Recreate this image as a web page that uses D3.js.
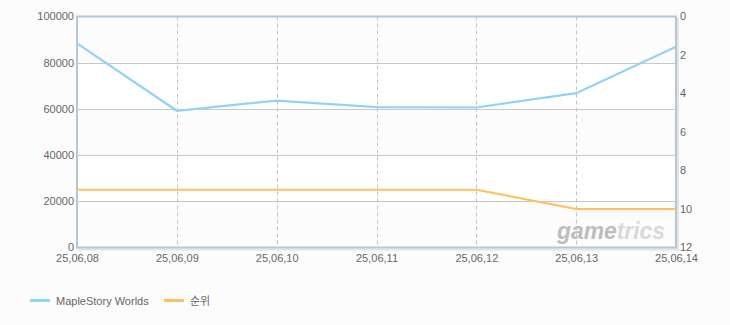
<!DOCTYPE html>
<html><head><meta charset="utf-8">
<script src="https://cdn.jsdelivr.net/npm/d3@7/dist/d3.min.js"></script>
<style>
html,body{margin:0;padding:0;background:#fcfcfc;}
text{font-family:"Liberation Sans",Arial,sans-serif;}
</style></head>
<body><div id="chart"></div>
<script>
const categories = ["25,06,08","25,06,09","25,06,10","25,06,11","25,06,12","25,06,13","25,06,14"];
const mapleValues = [88400, 59200, 63600, 60800, 60600, 66800, 86900];
const rankValues = [9, 9, 9, 9, 9, 10, 10];
const leftTicks = [0, 20000, 40000, 60000, 80000, 100000];
const rightTicks = [0, 2, 4, 6, 8, 10, 12];
const seriesNames = ["MapleStory Worlds", "순위"];
const seriesColors = ["#92d2f4", "#ffc062"];

const W = 730, H = 325;
const m = {l: 77, r: 54, t: 16.5, b: 77.5};
const FONT = "'Liberation Sans',Arial,sans-serif";
const svg = d3.select("#chart").append("svg").attr("width", W).attr("height", H);
svg.append("rect").attr("width", W).attr("height", H).attr("fill", "#fcfcfc");

const x = d3.scalePoint().domain(categories).range([m.l, W - m.r]);
const y = d3.scaleLinear().domain([0, 100000]).range([H - m.b, m.t]);
const y2 = d3.scaleLinear().domain([0, 12]).range([m.t, H - m.b]);

// shadow
svg.append("rect").attr("x", m.l + 2).attr("y", m.t + 2).attr("width", W - m.r - m.l).attr("height", H - m.b - m.t)
  .attr("fill", "none").attr("stroke", "#e4e4e4").attr("stroke-width", 2);

// bands
for (let i = 0; i < leftTicks.length - 1; i++) {
  svg.append("rect").attr("x", m.l).attr("width", W - m.r - m.l)
    .attr("y", y(leftTicks[i+1])).attr("height", y(leftTicks[i]) - y(leftTicks[i+1]))
    .attr("fill", i % 2 === 0 ? "#fcfcfc" : "#ffffff");
}

// horizontal gridlines
svg.append("g").selectAll("line").data(leftTicks.slice(1, -1)).join("line")
  .attr("x1", m.l).attr("x2", W - m.r).attr("y1", d => Math.round(y(d)) + 0.5).attr("y2", d => Math.round(y(d)) + 0.5)
  .attr("stroke", "#c8c8c8").attr("stroke-width", 1);
// vertical dashed gridlines
svg.append("g").selectAll("line").data(categories.slice(1, -1)).join("line")
  .attr("x1", d => Math.round(x(d)) + 0.5).attr("x2", d => Math.round(x(d)) + 0.5)
  .attr("y1", m.t).attr("y2", H - m.b)
  .attr("stroke", "#c4c4c4").attr("stroke-dasharray", "4,3");

// watermark
const wm = svg.append("text").attr("x", 557).attr("y", 239)
  .attr("font-size", 24).attr("font-style", "italic").attr("font-weight", "bold")
  .attr("textLength", 108).attr("lengthAdjust", "spacingAndGlyphs")
  .style("font-family", FONT);
wm.append("tspan").attr("fill", "#bdbdbd").text("game");
wm.append("tspan").attr("fill", "#d9d9d9").text("trics");

// frame
svg.append("rect").attr("x", m.l).attr("y", m.t).attr("width", W - m.r - m.l).attr("height", H - m.b - m.t)
  .attr("fill", "none").attr("stroke", "#b4c6da").attr("stroke-width", 2);

// lines
const line1 = d3.line().x((d, i) => x(categories[i])).y(d => y(d));
svg.append("path").datum(mapleValues).attr("d", line1).attr("fill", "none")
  .attr("stroke", seriesColors[0]).attr("stroke-width", 2.2);
const line2 = d3.line().x((d, i) => x(categories[i])).y(d => y2(d));
svg.append("path").datum(rankValues).attr("d", line2).attr("fill", "none")
  .attr("stroke", seriesColors[1]).attr("stroke-width", 2.2);

// axes
const fs = 11, tc = "#666";
const la = svg.append("g").attr("transform", `translate(${m.l - 1},0)`)
  .call(d3.axisLeft(y).tickValues(leftTicks).tickSize(0).tickPadding(2).tickFormat(d3.format("d")));
la.select(".domain").remove();
la.selectAll("text").attr("font-size", fs).attr("fill", tc).attr("dy", "0.3em").style("font-family", FONT);

const ra = svg.append("g").attr("transform", `translate(${W - m.r + 1},0)`)
  .call(d3.axisRight(y2).tickValues(rightTicks).tickSize(0).tickPadding(3));
ra.select(".domain").remove();
ra.selectAll("text").attr("font-size", fs).attr("fill", tc).attr("dy", "0.3em").style("font-family", FONT);

const ba = svg.append("g").attr("transform", `translate(0,${H - m.b})`)
  .call(d3.axisBottom(x).tickSize(0).tickPadding(7));
ba.select(".domain").remove();
ba.selectAll("text").attr("font-size", fs).attr("fill", tc).attr("dy", "0.71em").style("font-family", FONT);

// legend
const legX = [30, 164];
seriesNames.forEach((n, i) => {
  const g = svg.append("g").attr("transform", `translate(${legX[i]},299)`);
  g.append("rect").attr("x", 0).attr("y", 0).attr("width", 20).attr("height", 3).attr("fill", seriesColors[i]);
  g.append("text").attr("x", 26).attr("y", 5.5).attr("font-size", fs).attr("fill", tc)
    .style("font-family", i === 1 ? "'Noto Sans CJK KR',sans-serif" : FONT).text(n);
});
</script></body></html>
